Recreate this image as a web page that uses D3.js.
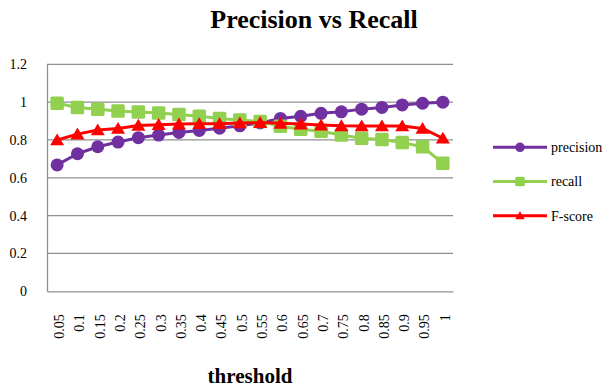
<!DOCTYPE html>
<html>
<head>
<meta charset="utf-8">
<script src="https://cdn.jsdelivr.net/npm/d3@7"></script>
<style>
  html, body { margin: 0; padding: 0; background: #fff; }
  svg { display: block; font-family: "Liberation Serif", "Times New Roman", serif; }
</style>
</head>
<body>
<svg id="chart" width="608" height="388"></svg>
<script>
// Threshold sweep: precision, recall and F-score at each cut-off
const thresholds = ["0.05","0.1","0.15","0.2","0.25","0.3","0.35","0.4","0.45","0.5",
                    "0.55","0.6","0.65","0.7","0.75","0.8","0.85","0.9","0.95","1"];
const precision = [0.668,0.727,0.764,0.789,0.812,0.826,0.840,0.850,0.862,0.875,
                   0.890,0.914,0.925,0.941,0.949,0.963,0.972,0.985,0.994,1.0];
const recall    = [0.994,0.972,0.962,0.953,0.948,0.942,0.935,0.926,0.914,0.905,
                   0.897,0.872,0.857,0.846,0.826,0.809,0.803,0.786,0.764,0.677];
const fscore    = [0.800,0.831,0.853,0.861,0.877,0.881,0.884,0.886,0.886,0.890,
                   0.892,0.888,0.884,0.879,0.875,0.874,0.874,0.874,0.861,0.809];
const yTicks = [0, 0.2, 0.4, 0.6, 0.8, 1, 1.2];

const series = [
  { name: "precision", values: precision, color: "#7030A0", marker: "circle" },
  { name: "recall",    values: recall,    color: "#92D050", marker: "square" },
  { name: "F-score",   values: fscore,    color: "#FF0000", marker: "triangle" }
];

const svg = d3.select("#chart");
const plot = { left: 47, right: 453, top: 64.3, bottom: 291.3 };

const x = d3.scaleBand().domain(thresholds).range([plot.left, plot.right]);
const y = d3.scaleLinear().domain([0, 1.2]).range([plot.bottom, plot.top]);

// Title
svg.append("text")
  .attr("x", 314).attr("y", 27.5)
  .attr("text-anchor", "middle")
  .attr("font-size", 26).attr("font-weight", "bold")
  .text("Precision vs Recall");

// Horizontal gridlines
svg.append("g")
  .selectAll("line")
  .data(yTicks.filter(d => d > 0))
  .join("line")
  .attr("x1", plot.left).attr("x2", plot.right)
  .attr("y1", d => y(d)).attr("y2", d => y(d))
  .attr("stroke", "#8f8f8f").attr("stroke-width", 1.3);

// Y axis (labels only, with axis line)
const yAxis = svg.append("g")
  .attr("transform", `translate(${plot.left},0)`)
  .call(d3.axisLeft(y).tickValues(yTicks).tickSize(0).tickPadding(20)
        .tickFormat(d => String(d)));
yAxis.select(".domain").attr("stroke", "#8f8f8f").attr("stroke-width", 1.3);
yAxis.selectAll("text")
  .attr("font-family", "Liberation Serif, Times New Roman, serif")
  .attr("font-size", 14).attr("fill", "#000");

// X axis with rotated category labels
const xAxis = svg.append("g")
  .attr("transform", `translate(0,${plot.bottom})`)
  .call(d3.axisBottom(x).tickSize(0).tickSizeOuter(0));
xAxis.select(".domain").attr("stroke", "#8f8f8f").attr("stroke-width", 1.3);
xAxis.selectAll("text")
  .attr("font-family", "Liberation Serif, Times New Roman, serif")
  .attr("font-size", 14).attr("fill", "#000")
  .attr("text-anchor", "end")
  .attr("transform", "rotate(-90)")
  .attr("x", -23).attr("y", 2).attr("dy", "0.35em");

// X axis title
svg.append("text")
  .attr("x", 250).attr("y", 383)
  .attr("text-anchor", "middle")
  .attr("font-size", 21).attr("font-weight", "bold")
  .text("threshold");

const cx = (d, i) => x(thresholds[i]) + x.bandwidth() / 2;

function drawMarker(sel, type, size, color) {
  if (type === "circle") {
    sel.append("circle").attr("r", size / 2).attr("fill", color);
  } else if (type === "square") {
    sel.append("rect").attr("x", -size / 2).attr("y", -size / 2)
      .attr("width", size).attr("height", size).attr("rx", 1.5).attr("fill", color);
  } else {
    const h = size * 0.85, w = size;
    sel.append("path")
      .attr("d", `M0,${-h * 0.55} L${w / 2},${h * 0.45} L${-w / 2},${h * 0.45} Z`)
      .attr("fill", color);
  }
}

const line = d3.line().x(cx).y(d => y(d));

const sizes = { circle: 13, square: 13.5, triangle: 14 };

series.forEach(s => {
  const g = svg.append("g");
  g.append("path")
    .datum(s.values)
    .attr("d", line)
    .attr("fill", "none")
    .attr("stroke", s.color)
    .attr("stroke-width", 3)
    .attr("stroke-linejoin", "round");
  g.selectAll("g.m")
    .data(s.values)
    .join("g")
    .attr("class", "m")
    .attr("transform", (d, i) => `translate(${cx(d, i)},${y(d)})`)
    .each(function () { drawMarker(d3.select(this), s.marker, sizes[s.marker], s.color); });
});

// Legend
const legend = svg.append("g");
series.forEach((s, i) => {
  const ly = 147.3 + i * 34.2;
  const g = legend.append("g");
  g.append("line")
    .attr("x1", 493).attr("x2", 547).attr("y1", ly).attr("y2", ly)
    .attr("stroke", s.color).attr("stroke-width", 3);
  const m = g.append("g").attr("transform", `translate(520,${ly})`);
  drawMarker(m, s.marker, 9.5, s.color);
  g.append("text")
    .attr("x", 551).attr("y", ly).attr("dy", "0.35em")
    .attr("font-size", 14)
    .text(s.name);
});
</script>
</body>
</html>
